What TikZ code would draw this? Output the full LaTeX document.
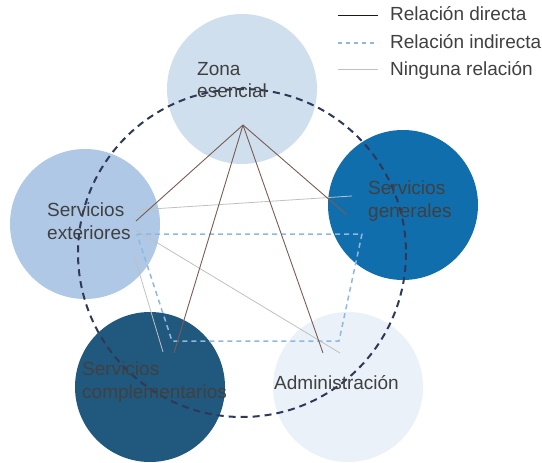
\documentclass[tikz,border=0pt]{standalone}
\usepackage{fontspec}
\setmainfont{Liberation Sans}
\definecolor{zonablue}{RGB}{207,223,238}
\definecolor{genblue}{RGB}{17,110,172}
\definecolor{extblue}{RGB}{174,200,230}
\definecolor{compblue}{RGB}{33,88,125}
\definecolor{admblue}{RGB}{234,241,249}
\definecolor{ringnavy}{RGB}{47,56,88}
\definecolor{directbrown}{RGB}{122,92,82}
\definecolor{indirblue}{RGB}{143,184,224}
\definecolor{nonegray}{RGB}{192,192,192}
\definecolor{textgray}{RGB}{64,64,64}

\begin{document}
\begin{tikzpicture}[x=1pt,y=-1pt,line cap=butt,line join=round,
    area/.style={circle,minimum size=150pt,inner sep=0pt},
    arealabel/.style={text=textgray,align=left,anchor=west,inner sep=0pt,
        font=\fontsize{19}{22.5}\selectfont},
    legendlabel/.style={text=textgray,anchor=west,inner sep=0pt,
        font=\fontsize{19}{22}\selectfont},
    direct/.style={directbrown,line width=0.9pt},
    indirect/.style={indirblue,line width=1.5pt,dash pattern=on 5pt off 4pt},
    noneline/.style={nonegray,line width=0.8pt}]
        \useasboundingbox (0,0) rectangle (542,463);

        % Zonas del programa
        \node[area,fill=zonablue]  (zona) at (242,89)  {};
        \node[area,fill=genblue]   (gen)  at (403,205) {};
        \node[area,fill=extblue]   (ext)  at (85,224)  {};
        \node[area,fill=compblue]  (comp) at (150,387) {};
        \node[area,fill=admblue]   (adm)  at (348,387) {};

        % Anillo discontinuo
        \draw[ringnavy,line width=2pt,dash pattern=on 7pt off 5pt] (242,253) circle[radius=164];

        % Puntos de enlace
        \coordinate (zonaP) at (243,125);
        \coordinate (extA)  at (136,210);
        \coordinate (extB)  at (136,221);
        \coordinate (extC)  at (137,234);
        \coordinate (extD)  at (136,230);
        \coordinate (extE)  at (134,255);
        \coordinate (genA)  at (347,215);
        \coordinate (genB)  at (352,196);
        \coordinate (genC)  at (362,234);
        \coordinate (compA) at (174,353);
        \coordinate (compB) at (163,352);
        \coordinate (compC) at (172,341);
        \coordinate (admA)  at (323,353);
        \coordinate (admB)  at (340,353);
        \coordinate (admC)  at (339,341);

        % Relaciones
        \draw[indirect] (extC) -- (genC) -- (admC) -- (compC) -- cycle;
        \draw[noneline] (extA) -- (genB);
        \draw[noneline] (extD) -- (admB);
        \draw[noneline] (extE) -- (compB);
        \foreach \p in {extB,genA,compA,admA} {
            \draw[direct] (zonaP) -- (\p);
        }

        % Rotulos
        \node[arealabel] (zonaT) at (197,80)  {Zona\\esencial};
        \node[arealabel] (extT)  at (47,221)  {Servicios\\exteriores};
        \node[arealabel] (genT)  at (368,201) {Servicios\\generales};
        \node[arealabel] (compT) at (82,382)  {Servicios\\complementarios};
        \node[arealabel] (admT)  at (274,383) {Administración};

        % Leyenda
        \node[legendlabel] (legA) at (390,14) {Relación directa};
        \node[legendlabel] (legB) at (390,42) {Relación indirecta};
        \node[legendlabel] (legC) at (390,70) {Ninguna relación};
        \coordinate (legA1) at (338,15); \coordinate (legA2) at (378,15);
        \coordinate (legB1) at (338,43); \coordinate (legB2) at (378,43);
        \coordinate (legC1) at (338,69); \coordinate (legC2) at (378,69);
        \draw[black!75!directbrown,line width=0.9pt] (legA1) -- (legA2);
        \draw[indirect,line width=1.2pt,dash pattern=on 4pt off 4pt] (legB1) -- (legB2);
        \draw[noneline] (legC1) -- (legC2);
    \end{tikzpicture}
\end{document}
